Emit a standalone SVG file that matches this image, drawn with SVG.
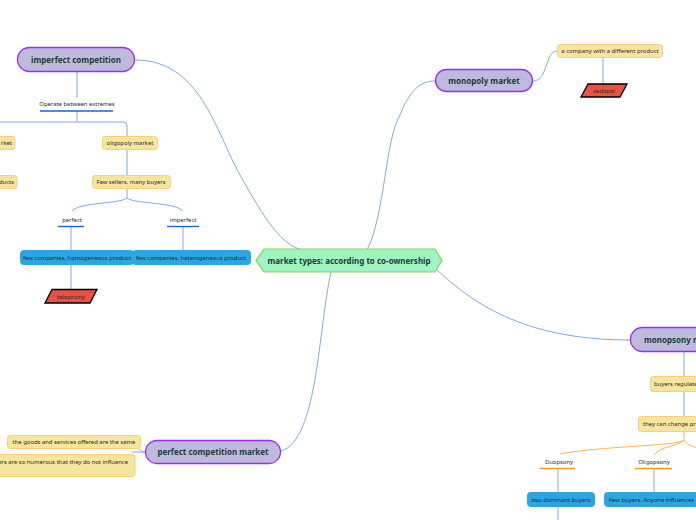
<svg xmlns="http://www.w3.org/2000/svg" width="696" height="520" viewBox="0 0 696 520">
<style>
.c{fill:none;stroke:#7fa9e6;stroke-width:1}
.o{fill:none;stroke:#f7b84a;stroke-width:1}
.pill{fill:#bfbadd;stroke:#a02cf0;stroke-width:1.3}
.tt{font-family:"Noto Sans","Open Sans",sans-serif;font-weight:bold;font-size:8px;fill:#1b3b3b;text-anchor:middle}
.y{fill:#f5e59d;stroke:#f6cf77;stroke-width:1}
.b{fill:#2aa6e2;stroke:#2aa6e2;stroke-width:1}
.s{font-family:"Noto Sans","Open Sans",sans-serif;font-size:5.9px;fill:#2a2a2a;text-anchor:middle}
.ul{stroke:#1d63d8;stroke-width:1.4}
.ulo{stroke:#f59c1c;stroke-width:1.4}
.red{fill:#e8523f;stroke:#000;stroke-width:1.3}
</style>
<rect width="696" height="520" fill="#fff"/>
<g id="connectors">
<path class="c" d="M135,60 C200,60 215,130 240,175 C265,220 282,246 303,250"/>
<path class="c" d="M367,250 C385,215 385,140 400,115 C410,90 420,81 435,81"/>
<path class="c" d="M533,81 C548,81 545,51 557,51"/>
<path class="c" d="M603,58 L603,84"/>
<path class="c" d="M437,270 C470,300 520,340 630,340"/>
<path class="c" d="M331,272 C318,330 318,440 281,451"/>
<path class="c" d="M145,452 L132,452 M145,452 C141,452 141,449 139,449"/>
<path class="c" d="M77,72 L77,98 M77,111 L77,122 M0,122 L123,122 Q127,122 127,126 L127,136 M127,150 L127,175"/>
<path class="c" d="M127,189 L127,198 C120,204 80,202 72,211 M127,198 C134,204 175,202 183,211"/>
<path class="c" d="M71,227 L71,250 M71,265 L71,289 M183,227 L183,250"/>
<path class="c" d="M684,352 L684,376 M684,392 L684,416"/>
<path class="o" d="M684,431 L684,440 C680,446 600,446 560,454 M684,440 C680,446 660,446 654,455 M684,440 C688,446 694,447 700,448"/>
<path class="c" d="M558,469 L558,492 M558,506 L558,520 M654,469 L654,492"/>
</g>
<g id="central">
<polygon points="264,249 435,249 442,260.5 435,272 264,272 256,260.5" fill="#9ff4bf" stroke="#92cd5c" stroke-width="1.2"/>
<text class="tt" x="349" y="263.5">market types: according to co-ownership</text>
</g>
<g id="imperfect-competition">
<rect class="pill" x="17.5" y="47.5" width="117" height="24" rx="12"/>
<text class="tt" x="76" y="63">imperfect competition</text>
</g>
<g id="operate">
<text class="s" x="77" y="106">Operate between extremes</text>
<line class="ul" x1="40" y1="111" x2="113" y2="111"/>
</g>
<g id="left-market">
<rect class="y" x="-10" y="136.5" width="25" height="13" rx="3"/>
<text class="s" x="12" y="145" style="text-anchor:end">rket</text>
</g>
<g id="left-products">
<rect class="y" x="-10" y="175.5" width="27" height="13" rx="3"/>
<text class="s" x="14" y="184" style="text-anchor:end">ducts</text>
</g>
<g id="oligopoly">
<rect class="y" x="102.5" y="136.5" width="55" height="13" rx="3"/>
<text class="s" x="130" y="145">oligopoly market</text>
</g>
<g id="few-sellers">
<rect class="y" x="92.5" y="175.5" width="78" height="13" rx="3"/>
<text class="s" x="131" y="184">Few sellers, many buyers</text>
</g>
<g id="perfect">
<text class="s" x="72" y="222">perfect</text>
<line class="ul" x1="58" y1="226.5" x2="84" y2="226.5"/>
</g>
<g id="imperfect">
<text class="s" x="183" y="222">imperfect</text>
<line class="ul" x1="167" y1="226.5" x2="199" y2="226.5"/>
</g>
<g id="homogeneous">
<rect class="b" x="20.5" y="250.5" width="113" height="14" rx="3"/>
<text class="s" x="77" y="260">few companies, homogeneous product</text>
</g>
<g id="heterogeneous">
<rect class="b" x="132.5" y="250.5" width="118" height="14" rx="3"/>
<text class="s" x="191" y="260">few companies, heterogeneous product</text>
</g>
<g id="telephony">
<polygon class="red" points="52,289.5 97,289.5 90,303 45,303"/>
<text class="s" x="71" y="299">telephony</text>
</g>
<g id="monopoly-market">
<rect class="pill" x="435.5" y="69.5" width="97" height="22" rx="11"/>
<text class="tt" x="484" y="84">monopoly market</text>
</g>
<g id="different-product">
<rect class="y" x="557.5" y="44.5" width="105" height="13" rx="3"/>
<text class="s" x="610" y="53">a company with a different product</text>
</g>
<g id="sedapal">
<polygon class="red" points="588,84 627,84 620,97 581,97" />
<text class="s" x="604" y="93">sedapal</text>
</g>
<g id="monopsony-market">
<rect class="pill" x="630.5" y="327.5" width="110" height="24" rx="12"/>
<text class="tt" x="644" y="343" style="text-anchor:start">monopsony market</text>
</g>
<g id="buyers-regulate">
<rect class="y" x="650.5" y="376.5" width="100" height="15" rx="3"/>
<text class="s" x="654" y="386" style="text-anchor:start">buyers regulate</text>
</g>
<g id="change-prices">
<rect class="y" x="638.5" y="416.5" width="110" height="15" rx="3"/>
<text class="s" x="643" y="426" style="text-anchor:start">they can change prices</text>
</g>
<g id="duopsony">
<text class="s" x="559" y="464">Duopsony</text>
<line class="ulo" x1="540" y1="468.5" x2="575" y2="468.5"/>
</g>
<g id="oligopsony">
<text class="s" x="654" y="464">Oligopsony</text>
<line class="ulo" x1="635" y1="468.5" x2="672" y2="468.5"/>
</g>
<g id="two-dominant">
<rect class="b" x="527.5" y="492.5" width="67" height="14" rx="3"/>
<text class="s" x="561" y="502">two dominant buyers</text>
</g>
<g id="few-buyers">
<rect class="b" x="604.5" y="492.5" width="120" height="14" rx="3"/>
<text class="s" x="609" y="502" style="text-anchor:start">Few buyers. Anyone influences</text>
</g>
<g id="perfect-competition-market">
<rect class="pill" x="145.5" y="440.5" width="135" height="23" rx="11.5"/>
<text class="tt" x="213" y="455">perfect competition market</text>
</g>
<g id="goods-same">
<rect class="y" x="7.5" y="435.5" width="133" height="13" rx="3"/>
<text class="s" x="74" y="444">the goods and services offered are the same</text>
</g>
<g id="numerous">
<rect class="y" x="-10" y="454.5" width="145" height="22" rx="3"/>
<text class="s" x="128" y="464" style="text-anchor:end">ers are so numerous that they do not influence</text>
</g>
</svg>
